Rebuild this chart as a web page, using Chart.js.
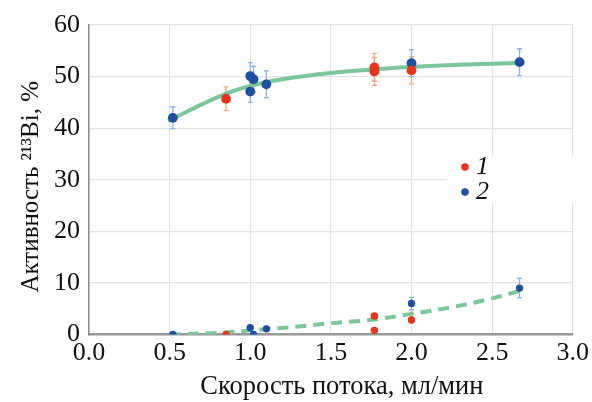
<!DOCTYPE html>
<html>
<head>
<meta charset="utf-8">
<script src="https://cdn.jsdelivr.net/npm/chart.js@4/dist/chart.umd.min.js"></script>
<style>
  html, body { margin: 0; padding: 0; background: #fff; }
  #wrap { width: 592px; height: 402px; }
</style>
</head>
<body>
<div id="wrap"><canvas id="c" width="592" height="402"></canvas></div>
<script>
// Flow rate (ml/min) and 213Bi activity (%) with uncertainties, series 1
const flowRed = [0.85, 1.77, 1.77, 2.0, 0.85, 1.77, 1.77, 2.0];
const actRed  = [45.7, 51.8, 51.0, 51.2, 0.0, 3.6, 0.8, 2.8];
const errRed  = [2.3, 2.7, 2.7, 2.6, 0.0, 0.5, 0.4, 0.5];

// Series 2
const flowBlue = [0.52, 1.0, 1.02, 1.0, 1.1, 2.0, 2.67, 0.52, 1.0, 1.02, 1.1, 2.0, 2.67];
const actBlue  = [42.0, 50.1, 49.5, 47.1, 48.5, 52.6, 52.8, 0.0, 1.3, 0.0, 1.1, 6.0, 9.0];
const errBlue  = [2.1, 2.6, 2.5, 2.1, 2.6, 2.6, 2.6, 0.0, 0.3, 0.0, 0.3, 1.2, 1.9];

// Trend curves
const fitFlowTop = [0.49, 0.6, 0.7, 0.85, 1.0, 1.2, 1.5, 1.77, 2.0, 2.3, 2.5, 2.7];
const fitTop     = [41.4, 43.1, 44.6, 46.7, 48.2, 49.5, 50.7, 51.4, 51.9, 52.3, 52.5, 52.7];
const fitFlowBot = [0.5, 0.85, 1.0, 1.25, 1.5, 1.77, 2.0, 2.25, 2.5, 2.7];
const fitBot     = [0.0, 0.4, 0.8, 1.4, 2.2, 2.9, 4.0, 5.3, 7.0, 8.7];

const seriesLabels = ['1', '2'];
const xTicks = [0, 0.5, 1.0, 1.5, 2.0, 2.5, 3.0];
const xTitle = 'Скорость потока, мл/мин';
const yTitle = 'Активность ²¹³Bi, %';

const RED = '#e8341e', BLUE = '#1f4f9f', GREEN = '#7cc69c';
const RED_ERR = '#f4a77f', BLUE_ERR = '#90b2e2';
const SERIF = '"Liberation Serif", "Times New Roman", serif';

const pts = (xs, ys) => xs.map((x, i) => ({ x, y: ys[i] }));

// Vertical error bars with caps, positioned through the chart scales
const errorBars = {
  id: 'errorBars',
  beforeDatasetsDraw(chart) {
    const { ctx, scales: { x, y } } = chart;
    chart.data.datasets.forEach((ds) => {
      if (!ds.errors) return;
      ctx.save();
      ctx.strokeStyle = ds.errorColor;
      ctx.lineWidth = 1.3;
      ds.data.forEach((p, i) => {
        const e = ds.errors[i];
        if (!e) return;
        const px = x.getPixelForValue(p.x);
        const y1 = y.getPixelForValue(p.y + e);
        const y2 = y.getPixelForValue(p.y - e);
        ctx.beginPath();
        ctx.moveTo(px, y1); ctx.lineTo(px, y2);
        ctx.moveTo(px - 2.5, y1); ctx.lineTo(px + 2.5, y1);
        ctx.moveTo(px - 2.5, y2); ctx.lineTo(px + 2.5, y2);
        ctx.stroke();
      });
      ctx.restore();
    });
  }
};

// Legend box placed inside the plot area
const innerLegend = {
  id: 'innerLegend',
  beforeDatasetsDraw(chart) {
    const { ctx, scales: { x, y } } = chart;
    const left = x.getPixelForValue(2.22), right = x.getPixelForValue(3.0) + 2;
    const top = y.getPixelForValue(34.5), bottom = y.getPixelForValue(25.5);
    ctx.save();
    ctx.fillStyle = '#fff';
    ctx.fillRect(left, top, right - left, bottom - top);
    ctx.restore();
  },
  afterDraw(chart) {
    const { ctx } = chart;
    const items = [
      { text: seriesLabels[0], color: RED, cy: 167 },
      { text: seriesLabels[1], color: BLUE, cy: 192 }
    ];
    ctx.save();
    items.forEach((it) => {
      ctx.beginPath();
      ctx.arc(465, it.cy, 3.8, 0, Math.PI * 2);
      ctx.fillStyle = it.color;
      ctx.fill();
      ctx.fillStyle = '#111';
      ctx.font = 'italic 26px ' + SERIF;
      ctx.textBaseline = 'middle';
      ctx.textAlign = 'left';
      ctx.fillText(it.text, 476, it.cy);
    });
    ctx.restore();
  }
};

// Axis titles, set slightly off the plot centre
const axisTitles = {
  id: 'axisTitles',
  afterDraw(chart) {
    const { ctx, chartArea: a } = chart;
    ctx.save();
    ctx.fillStyle = '#111';
    ctx.textAlign = 'center';
    ctx.textBaseline = 'middle';
    ctx.font = '26.5px ' + SERIF;
    ctx.fillText(xTitle, (a.left + a.right) / 2 + 11, 387);
    ctx.translate(31, (a.top + a.bottom) / 2 + 7);
    ctx.rotate(-Math.PI / 2);
    ctx.font = '25px ' + SERIF;
    ctx.fillText(yTitle, 0, 0);
    ctx.restore();
  }
};

new Chart(document.getElementById('c'), {
  type: 'scatter',
  data: {
    datasets: [
      {
        label: seriesLabels[0],
        data: pts(flowRed, actRed),
        errors: errRed,
        errorColor: RED_ERR,
        backgroundColor: RED,
        borderColor: RED,
        pointRadius: (c) => (c.raw && c.raw.y > 20 ? 4.9 : 3.7),
        pointBorderWidth: 0,
        order: 0
      },
      {
        label: seriesLabels[1],
        data: pts(flowBlue, actBlue),
        errors: errBlue,
        errorColor: BLUE_ERR,
        backgroundColor: BLUE,
        borderColor: BLUE,
        pointRadius: (c) => (c.raw && c.raw.y > 20 ? 4.9 : 3.7),
        pointBorderWidth: 0,
        order: 0
      },
      {
        type: 'line',
        data: pts(fitFlowTop, fitTop),
        borderColor: GREEN,
        borderWidth: 4,
        pointRadius: 0,
        fill: false,
        cubicInterpolationMode: 'monotone',
        order: 2
      },
      {
        type: 'line',
        data: pts(fitFlowBot, fitBot),
        borderColor: GREEN,
        borderWidth: 4,
        borderDash: [11, 7],
        pointRadius: 0,
        fill: false,
        cubicInterpolationMode: 'monotone',
        order: 2
      }
    ]
  },
  options: {
    responsive: false,
    animation: false,
    layout: { padding: { top: 25, right: 17, left: 0, bottom: 0 } },
    plugins: { legend: { display: false }, tooltip: { enabled: false } },
    scales: {
      x: {
        type: 'linear',
        min: 0, max: 3,
        afterBuildTicks: (s) => { s.ticks = xTicks.map((v) => ({ value: v })); },
        afterFit: (s) => { s.height = 67.5; },
        ticks: {
          callback: (v) => v.toFixed(1),
          color: '#111',
          font: { family: SERIF, size: 26 },
          padding: 3,
          maxRotation: 0
        },
        grid: { color: '#e4e4e4', lineWidth: 1.2, drawTicks: false },
        border: { color: '#9a9a9a', width: 2.5 }
      },
      y: {
        type: 'linear',
        min: 0, max: 60,
        afterFit: (s) => { s.width = 89; },
        ticks: {
          stepSize: 10,
          color: '#111',
          font: { family: SERIF, size: 26 },
          padding: 9
        },
        grid: { color: '#e4e4e4', lineWidth: 1.2, drawTicks: false },
        border: { color: '#8a8a8a', width: 1.5 }
      }
    }
  },
  plugins: [errorBars, innerLegend, axisTitles]
});
</script>
</body>
</html>
